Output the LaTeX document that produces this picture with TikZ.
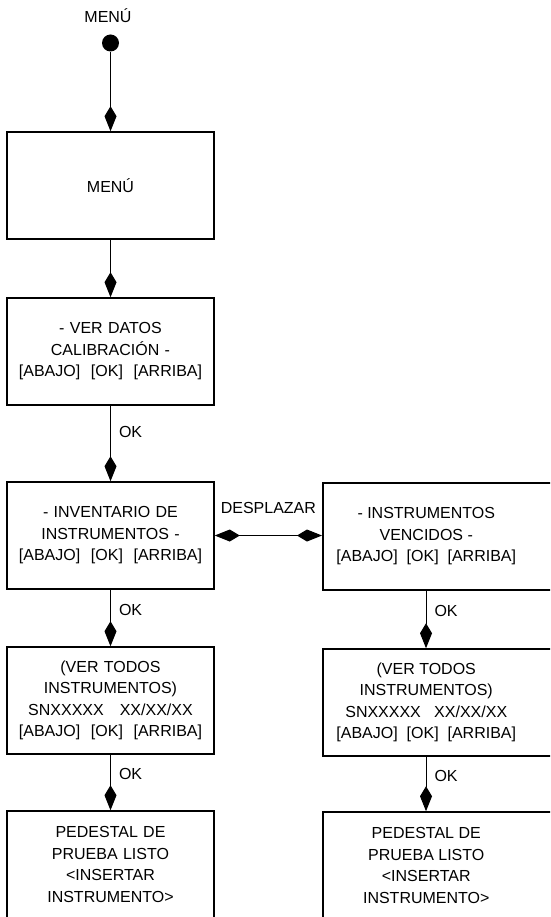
\documentclass[tikz,border=0pt]{standalone}
\usepackage{fontspec}
\setmainfont{Liberation Sans}
\usetikzlibrary{positioning}
\usetikzlibrary{arrows.meta}

\begin{document}
\begin{tikzpicture}[
    x=1pt, y=-1pt,
    font=\fontsize{16}{21.5}\selectfont,
    >={Kite[length=25pt, width=12pt, inset=10pt]},
    flow/.style={->, line width=1pt},
    state/.style={rectangle, draw, line width=1.5pt, minimum width=207pt,
        minimum height=107pt, text width=207pt, inner xsep=0pt, align=center},
    wstate/.style={rectangle, draw, line width=1.5pt, minimum height=107pt,
        inner xsep=0pt, anchor=west},
    oklabel/.style={right, inner sep=0pt, xshift=8pt, pos=0.35},
    startdot/.style={circle, fill, inner sep=0pt, minimum size=17pt}
]
    \useasboundingbox (0,0) rectangle (550,917);
    \clip (0,0) rectangle (550,917);

    % --- Left column ---
    \node[anchor=base] (lbltop) at (108,23) {MENÚ};
    \node[startdot] (ini) at (110.5,43) {};
    \node[state] (menu) at (110.5,185.5) {MENÚ};
    \node[state] (datos) at (110.5,351.5)
        {- VER DATOS\\CALIBRACIÓN -\\{}[ABAJO]\ \ [OK]\ \ [ARRIBA]};
    \node[state] (inv) at (110.5,535.5)
        {- INVENTARIO DE\\INSTRUMENTOS -\\{}[ABAJO]\ \ [OK]\ \ [ARRIBA]};
    \node[state] (todos) at (110.5,700.5)
        {(VER TODOS\\INSTRUMENTOS)\\SNXXXXX\ \ \ XX/XX/XX\\{}[ABAJO]\ \ [OK]\ \ [ARRIBA]};
    \node[state] (pedestal) at (110.5,864.5)
        {PEDESTAL DE\\PRUEBA LISTO\\<INSERTAR\\INSTRUMENTO>};

    % --- Right column ---
    \coordinate (colB) at (426,0);
    \node[wstate] (venc) at (322,536.5)
        {\parbox{207pt}{\centering - INSTRUMENTOS\\VENCIDOS -\\{}[ABAJO]\ \ [OK]\ \ [ARRIBA]}\makebox[50pt]{}};
    \node[wstate] (todosB) at (322,702.5)
        {\parbox{207pt}{\centering (VER TODOS\\INSTRUMENTOS)\\SNXXXXX\ \ \ XX/XX/XX\\{}[ABAJO]\ \ [OK]\ \ [ARRIBA]}\makebox[50pt]{}};
    \node[wstate] (pedestalB) at (322,865.5)
        {\parbox{207pt}{\centering PEDESTAL DE\\PRUEBA LISTO\\<INSERTAR\\INSTRUMENTO>}\makebox[50pt]{}};

    % --- Connectors ---
    \draw[flow] (ini) -- (menu);
    \draw[flow] (menu) -- (datos);
    \draw[flow] (datos) -- node[oklabel] {OK} (inv);
    \draw[flow] (inv) -- node[oklabel] {OK} (todos);
    \draw[flow] (todos) -- node[oklabel] {OK} (pedestal);
    \draw[flow] (venc.south -| colB) -- node[oklabel] {OK} (todosB.north -| colB);
    \draw[flow] (todosB.south -| colB) -- node[oklabel] {OK} (pedestalB.north -| colB);
    \draw[<->, line width=1pt] (inv.east) -- node[above=21pt, inner sep=0pt] {DESPLAZAR} (inv.east -| venc.west);
\end{tikzpicture}
\end{document}
